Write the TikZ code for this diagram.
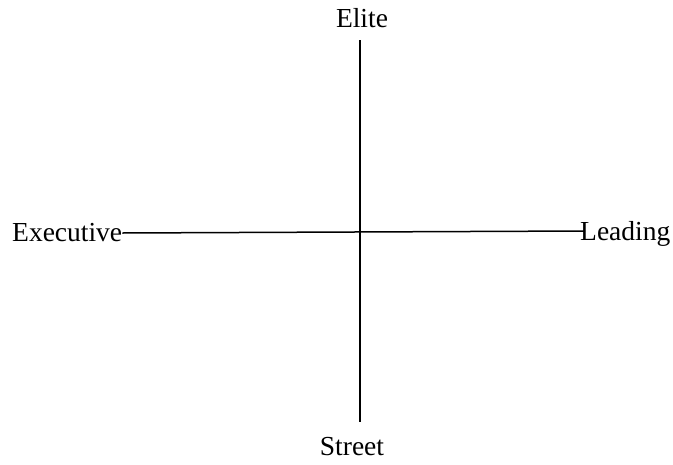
\documentclass[tikz,border=0pt]{standalone}
\usepackage{fontspec}
\setmainfont{Liberation Serif}
\usepackage{tikz}
\usetikzlibrary{positioning}

\begin{document}
\begin{tikzpicture}[x=1pt, y=-1pt, line join=round,
    axislabel/.style={inner sep=0pt, font=\fontsize{27.5}{32}\selectfont}]
  \useasboundingbox (0,0) rectangle (673,464);
  % axis ends
  \coordinate (top) at (360,40);
  \coordinate (bottom) at (360,422);
  \coordinate (right) at (585,231);
  % labels
  \node[axislabel] (elite) at (362,18) {Elite};
  \node[axislabel] (street) at (352,447) {Street};
  \node[axislabel, anchor=west] (exec) at (12,233) {Executive};
  \node[axislabel, anchor=west] (lead) at (580,234) {Leading};
  % axes
  \draw[line width=1.5pt] (top) -- (bottom);
  \draw[line width=1.5pt] (exec.east) -- (right);
\end{tikzpicture}
\end{document}
